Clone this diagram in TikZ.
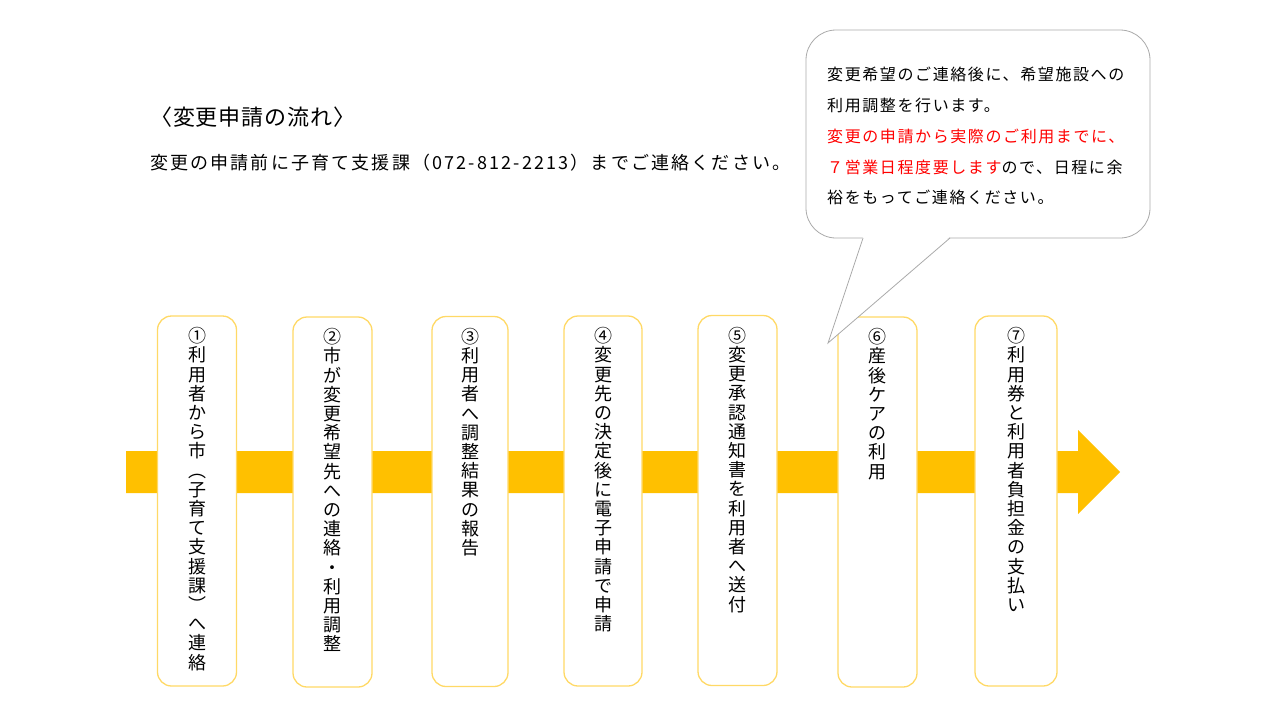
\documentclass[tikz,border=0pt]{standalone}
\usepackage{fontspec}
\setmainfont{Noto Sans CJK JP}
\newfontfamily\notefont[LetterSpace=10]{Noto Sans CJK JP}
\newfontfamily\leadfont[LetterSpace=12]{Noto Sans CJK JP}
\newfontfamily\headfont[LetterSpace=4]{Noto Sans CJK JP}
\usepackage{xcolor}
\usetikzlibrary{positioning,calc}
\definecolor{bandgold}{RGB}{255,192,0}
\definecolor{boxgold}{RGB}{255,217,102}
\definecolor{notegray}{RGB}{170,170,170}
\definecolor{notered}{RGB}{255,0,0}

% vertical (tategaki) stacking of characters
\def\tateloop#1{\ifx\relax#1\else\hbox to 20pt{\hss#1\hss}\expandafter\tateloop\fi}
\newcommand\tatebox[1]{\vbox{\baselineskip=19.2pt\lineskiplimit=-100pt\lineskip=0pt\tateloop#1\relax}}

\begin{document}
\begin{tikzpicture}[x=1pt, y=-1pt,
    flowbox/.style={rectangle, draw=boxgold, line width=1.3pt, fill=white, rounded corners=14pt,
                    minimum width=79pt, minimum height=370pt, inner sep=0pt},
    flowtext/.style={inner sep=0pt, font=\fontsize{18}{19.2}\selectfont},
    note/.style={rectangle, draw=notegray, line width=0.8pt, fill=white, rounded corners=30pt,
                 minimum width=344pt, minimum height=208pt, inner sep=0pt}
]
\useasboundingbox (0,0) rectangle (1280,720);

% headings
\node[anchor=west, inner sep=0pt, font=\headfont\fontsize{22}{24}\selectfont] (title) at (150,117) {〈変更申請の流れ〉};
\node[anchor=west, inner sep=0pt, font=\leadfont\fontsize{18}{20}\selectfont] (lead) at (150,163)
    {変更の申請前に子育て支援課（072-812-2213）までご連絡ください。};

% flow band
\coordinate (bandstart) at (126,472);
\coordinate (tip) at (1120,472);
\fill[bandgold] (126,451) -- (1078,451) -- (1078,430) -- (tip) -- (1078,514) -- (1078,493) -- (126,493) -- cycle;

% steps
\node[flowbox] (contact) at (197,501) {};
\node[flowtext, below=12pt of contact.north] (contacttxt) {\tatebox{①利用者から市︵子育て支援課︶へ連絡}};

\node[flowbox] (adjust) at (332.5,502) {};
\node[flowtext, below=12pt of adjust.north] (adjusttxt) {\tatebox{②市が変更希望先への連絡・利用調整}};

\node[flowbox, minimum width=76pt] (report) at (470,501.5) {};
\node[flowtext, below=12pt of report.north] (reporttxt) {\tatebox{③利用者へ調整結果の報告}};

\node[flowbox, minimum width=78pt] (apply) at (603,501) {};
\node[flowtext, below=12pt of apply.north] (applytxt) {\tatebox{④変更先の決定後に電子申請で申請}};

\node[flowbox] (notice) at (737.5,500.5) {};
\node[flowtext, below=12pt of notice.north] (noticetxt) {\tatebox{⑤変更承認通知書を利用者へ送付}};

\node[flowbox] (use) at (877.5,502) {};
\node[flowtext, below=12pt of use.north] (usetxt) {\tatebox{⑥産後ケアの利用}};

\node[flowbox, minimum width=82pt] (pay) at (1016,501) {};
\node[flowtext, below=12pt of pay.north] (paytxt) {\tatebox{⑦利用券と利用者負担金の支払い}};

% callout
\node[note] (memo) at (978,134) {};
\coordinate (tailL) at (863,238);
\coordinate (tailR) at (950,238);
\coordinate (tailtip) at (828,343);
\fill[white] ($(tailL)+(0,-1.5)$) -- (tailtip) -- ($(tailR)+(0,-1.5)$) -- cycle;
\draw[notegray, line width=0.8pt] (tailL) -- (tailtip) -- (tailR);
\node[anchor=north west, inner sep=0pt, align=left, font=\notefont\fontsize{16}{30.8}\selectfont] (memotxt) at (827,67)
    {変更希望のご連絡後に、希望施設への\\
     利用調整を行います。\\
     \textcolor{notered}{変更の申請から実際のご利用までに、}\\
     \textcolor{notered}{７営業日程度要します}ので、日程に余\\
     裕をもってご連絡ください。};

\end{tikzpicture}
\end{document}
